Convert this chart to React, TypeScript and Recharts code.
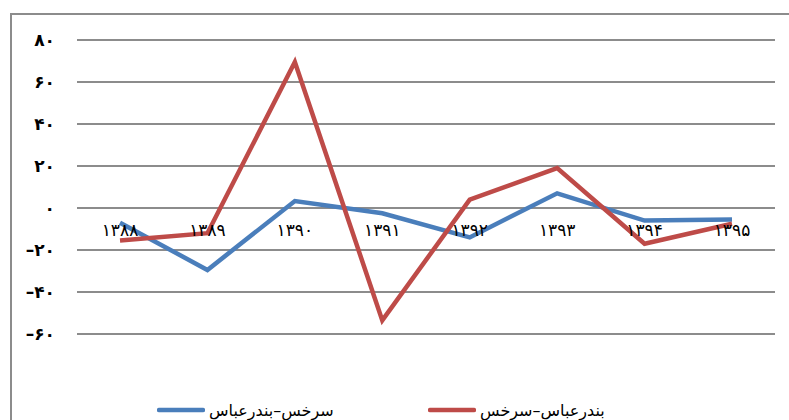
import React from "react";
import {
  LineChart,
  Line,
  XAxis,
  YAxis,
  CartesianGrid,
  Legend,
} from "recharts";

const years = ["1388", "1389", "1390", "1391", "1392", "1393", "1394", "1395"];
const sarakhsToBandar = [-7, -29.5, 3.3, -2.5, -14, 7, -6, -5.5];
const bandarToSarakhs = [-15.5, -12, 69.5, -53.5, 4, 19, -17, -7.5];
const yTicks = [-60, -40, -20, 0, 20, 40, 60, 80];

const blueName = "سرخس–بندرعباس";
const redName = "بندرعباس–سرخس";

const data = years.map((y, i) => ({
  year: y,
  blue: sarakhsToBandar[i],
  red: bandarToSarakhs[i],
}));

// western digits -> persian digits
const fa = (v: number | string) =>
  String(v)
    .replace(/\d/g, (d) => "۰۱۲۳۴۵۶۷۸۹"[Number(d)])
    .replace("-", "–");

const FONT = '"DejaVu Sans", sans-serif';

function YearTick({ x, y, payload }: any) {
  return (
    <text
      x={x}
      y={y - 98}
      textAnchor="middle"
      fontFamily={FONT}
      fontSize={17}
      fill="#000"
    >
      {fa(payload.value)}
    </text>
  );
}

function ValueTick({ x, y, payload }: any) {
  return (
    <text
      x={x}
      y={y}
      dy={6}
      textAnchor="end"
      fontFamily={FONT}
      fontWeight="bold"
      fontSize={17}
      fill="#000"
    >
      {fa(payload.value)}
    </text>
  );
}

function LegendBox({ payload }: any) {
  return (
    <div
      style={{
        display: "flex",
        alignItems: "center",
        height: 24,
        paddingLeft: 157,
        fontFamily: FONT,
        fontSize: 16,
      }}
    >
      {(payload || []).map((p: any, i: number) => (
        <div
          key={i}
          style={{ display: "flex", alignItems: "center", width: 271 }}
        >
          <svg width={48} height={8} style={{ marginRight: 4 }}>
            <line
              x1={2}
              y1={4}
              x2={46}
              y2={4}
              stroke={p.color}
              strokeWidth={4.5}
              strokeLinecap="round"
            />
          </svg>
          <span style={{ color: "#000" }}>{p.value}</span>
        </div>
      ))}
    </div>
  );
}

export default function App() {
  return (
    <div
      style={{
        position: "absolute",
        top: 0,
        left: 0,
        width: 789,
        height: 420,
        overflow: "hidden",
        background: "#fff",
      }}
    >
      <div
        style={{
          position: "absolute",
          left: 10,
          top: 13,
          width: 800,
          height: 420,
          borderLeft: "2px solid #8c8c8c",
          borderTop: "2px solid #8c8c8c",
        }}
      />
      <LineChart
        width={789}
        height={420}
        data={data}
        margin={{ top: 40, right: 14, bottom: 61, left: 0 }}
        style={{ position: "absolute", top: 0, left: 0 }}
      >
        <CartesianGrid vertical={false} stroke="#8c8c8c" strokeWidth={2} />
        <XAxis
          dataKey="year"
          height={1}
          tickLine={false}
          axisLine={false}
          tickSize={0}
          tickMargin={0}
          interval={0}
          padding={{ left: 43, right: 43 }}
          tick={<YearTick />}
        />
        <YAxis
          width={77}
          domain={[-60, 80]}
          ticks={yTicks}
          tickLine={false}
          axisLine={false}
          tickSize={0}
          tickMargin={22}
          interval={0}
          tick={<ValueTick />}
        />
        <Legend
          verticalAlign="bottom"
          height={24}
          itemSorter="dataKey"
          content={<LegendBox />}
          wrapperStyle={{ left: 0, width: 789, top: 398, bottom: "auto" }}
        />
        <Line
          dataKey="blue"
          name={blueName}
          stroke="#4a7ebb"
          strokeWidth={4.5}
          dot={false}
          activeDot={false}
          isAnimationActive={false}
        />
        <Line
          dataKey="red"
          name={redName}
          stroke="#be4b48"
          strokeWidth={4.5}
          dot={false}
          activeDot={false}
          isAnimationActive={false}
        />
      </LineChart>
    </div>
  );
}
